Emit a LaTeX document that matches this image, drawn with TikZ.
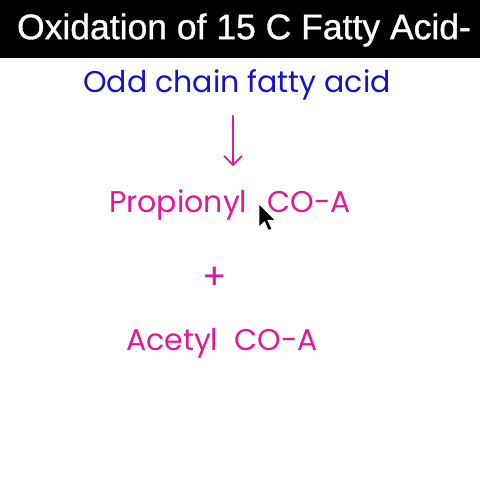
\documentclass[tikz,border=0pt]{standalone}
\usepackage{fontspec}
\setmainfont{Liberation Sans}[FakeBold=1]
\newfontfamily\handfont{Poppins}
\usetikzlibrary{arrows.meta}
\definecolor{inkblue}{RGB}{20,20,200}
\definecolor{inkpink}{RGB}{228,24,150}
\begin{document}
\begin{tikzpicture}[
        x=1pt, y=-1pt,
        titlebar/.style={fill=black, draw=none},
        titletext/.style={text=white, font=\fontsize{35.5}{40}\selectfont},
        bluen/.style={text=inkblue, font=\handfont\fontsize{30}{34}\selectfont},
        pinkn/.style={text=inkpink, font=\handfont\fontsize{30}{34}\selectfont},
        flow/.style={draw=inkpink, line width=1.8pt, line cap=round, -{Straight Barb[length=9pt,width=18pt,line width=1.8pt]}},
        cursor/.style={fill=black, draw=white, line width=0.6pt},
    ]
    \useasboundingbox (0,0) rectangle (480,480);
    \fill[white] (0,0) rectangle (480,480);
    \path[titlebar] (0,0) rectangle (480,58);
    \node[titletext](title) at (244,30){Oxidation of 15 C Fatty Acid-};
    \node[bluen](odd) at (237,85){Odd chain fatty acid};
    \node[pinkn](prop) at (230,205){Propionyl\hspace{20pt}CO-A};
    \node[pinkn, font=\handfont\fontsize{36}{40}\selectfont](plus) at (215,278){+};
    \node[pinkn](acetyl) at (222,343){Acetyl\hspace{16pt}CO-A};
    \draw[flow] ([xshift=-4pt,yshift=-12pt]odd.south) -- ([xshift=3pt,yshift=20pt]prop.north);
    % mouse pointer
    \draw[cursor,shift={(259,204)},scale=1.35]
        (0,0) -- (0,17) -- (4,13) -- (7,19.5) -- (9.5,18.5) -- (6.5,12) -- (12,12) -- cycle;
\end{tikzpicture}
\end{document}
